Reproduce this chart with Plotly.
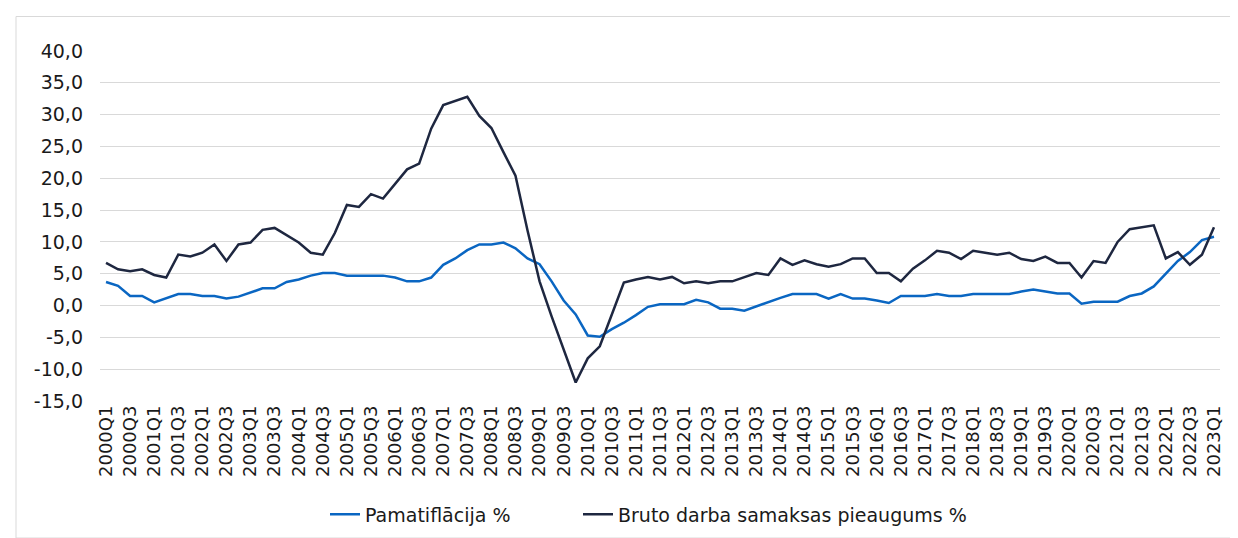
import plotly.graph_objects as go

# Quarters 2000Q1 .. 2023Q1
years = list(range(2000, 2024))
quarters = [f"{y}Q{q}" for y in years for q in (1, 2, 3, 4)][:93]

core_inflation = [
    3.7, 3.1, 1.5, 1.5, 0.5, 1.2, 1.8, 1.8, 1.5, 1.5,
    1.1, 1.4, 2.0, 2.7, 2.7, 3.7, 4.1, 4.7, 5.1, 5.1,
    4.7, 4.7, 4.7, 4.7, 4.4, 3.8, 3.8, 4.4, 6.4, 7.4,
    8.7, 9.6, 9.6, 9.9, 9.0, 7.4, 6.5, 3.8, 0.8, -1.4,
    -4.7, -4.9, -3.7, -2.7, -1.5, -0.2, 0.2, 0.2, 0.2, 0.9,
    0.5, -0.5, -0.5, -0.8, -0.1, 0.6, 1.2, 1.8, 1.8, 1.8,
    1.1, 1.8, 1.1, 1.1, 0.8, 0.4, 1.5, 1.5, 1.5, 1.8,
    1.5, 1.5, 1.8, 1.8, 1.8, 1.8, 2.2, 2.5, 2.2, 1.9,
    1.9, 0.3, 0.6, 0.6, 0.6, 1.5, 1.9, 3.0, 5.0, 7.0,
    8.4, 10.3, 10.8,
]

wage_growth = [
    6.7, 5.7, 5.4, 5.7, 4.8, 4.4, 8.0, 7.7, 8.3, 9.6,
    7.0, 9.6, 9.9, 11.9, 12.2, 11.1, 9.9, 8.3, 8.0, 11.4,
    15.8, 15.5, 17.5, 16.8, 19.1, 21.4, 22.3, 27.8, 31.5, 32.1,
    32.8, 29.8, 27.9, 24.1, 20.4, 11.8, 3.8, -1.7, -6.9, -12.1,
    -8.3, -6.4, -1.4, 3.6, 4.1, 4.5, 4.1, 4.5, 3.5, 3.8,
    3.5, 3.8, 3.8, 4.5, 5.1, 4.8, 7.4, 6.4, 7.1, 6.5,
    6.1, 6.5, 7.4, 7.4, 5.1, 5.1, 3.8, 5.8, 7.1, 8.6,
    8.3, 7.3, 8.6, 8.3, 8.0, 8.3, 7.3, 7.0, 7.7, 6.7,
    6.7, 4.4, 7.0, 6.7, 10.0, 12.0, 12.3, 12.6, 7.4, 8.4,
    6.4, 8.0, 12.3,
]

series_names = ["Pamatiflācija %", "Bruto darba samaksas pieaugums %"]
series_colors = ["#0a66c2", "#1e2740"]
series_legends = ["legend", "legend2"]

y_tick_values = [-15, -10, -5, 0, 5, 10, 15, 20, 25, 30, 35, 40]
y_tick_labels = ["-15,0", "-10,0", "-5,0", "0,0", "5,0", "10,0", "15,0",
                 "20,0", "25,0", "30,0", "35,0", "40,0"]
x_tick_labels = quarters[::2]

W, H = 1238, 538
L, R, T, B = 92, 1212, 43, 398

fig = go.Figure()
for name, vals, col, lg in zip(series_names, [core_inflation, wage_growth],
                               series_colors, series_legends):
    fig.add_trace(go.Scatter(
        x=quarters, y=vals, mode="lines", name=name, legend=lg,
        line=dict(color=col, width=2.5),
    ))

def px_x(p):
    return (p - L) / (R - L)

def px_y(p):
    return (B - p) / (B - T)

fig.add_shape(type="rect", xref="paper", yref="paper",
              x0=px_x(8), x1=px_x(1230), y0=px_y(537), y1=px_y(8),
              line=dict(color="#d9d9d9", width=1), fillcolor="rgba(0,0,0,0)",
              layer="below")

legend_common = dict(orientation="h", xanchor="left", yanchor="middle",
                     y=px_y(513), font=dict(size=19, color="#1a1a1a"),
                     bgcolor="rgba(0,0,0,0)")

fig.update_layout(
    width=W, height=H,
    margin=dict(l=L, r=W - R, t=T, b=H - B),
    paper_bgcolor="white", plot_bgcolor="white",
    font=dict(family="DejaVu Sans", size=19, color="#1a1a1a"),
    showlegend=True,
    legend=dict(x=px_x(317), **legend_common),
    legend2=dict(x=px_x(570), **legend_common),
    xaxis=dict(
        type="category", range=[-0.5, len(quarters) - 0.5],
        tickmode="array", tickvals=x_tick_labels, ticktext=x_tick_labels,
        tickangle=-90, showgrid=False, showline=False, zeroline=False,
        ticks="", tickfont=dict(size=18),
    ),
    yaxis=dict(
        range=[-15, 40], tickmode="array", tickvals=y_tick_values,
        ticktext=y_tick_labels, showgrid=True, gridcolor="#d9d9d9",
        gridwidth=1, zeroline=False, showline=False, ticks="",
        ticklabelstandoff=16, tickfont=dict(size=19),
    ),
)

fig.write_html("out.html")
